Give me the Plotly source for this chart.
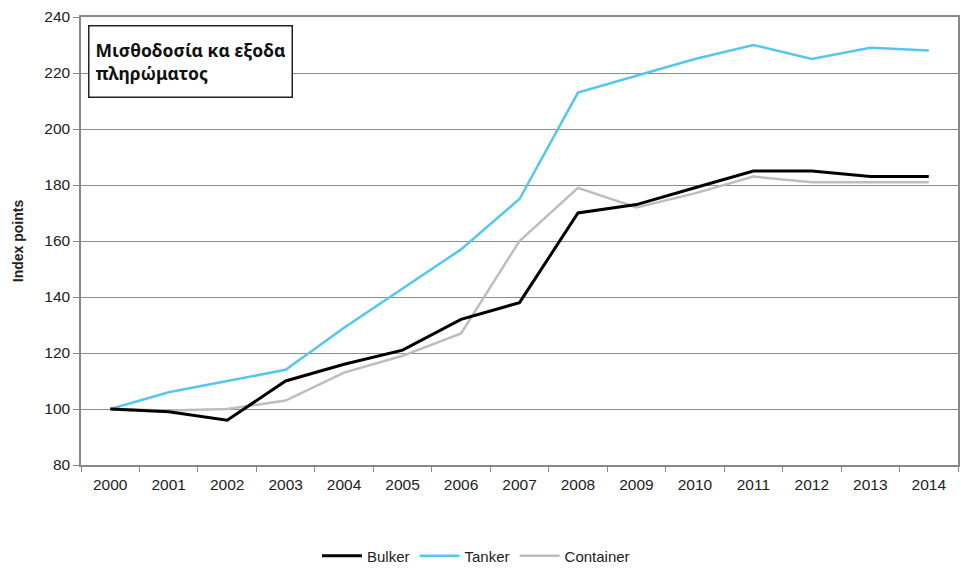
import plotly.graph_objects as go

years = [str(y) for y in range(2000, 2015)]
bulker = [100, 99, 96, 110, 116, 121, 132, 138, 170, 173, 179, 185, 185, 183, 183]
tanker = [100, 106, 110, 114, 129, 143, 157, 175, 213, 219, 225, 230, 225, 229, 228]
container = [100, 99.5, 100, 103, 113, 119, 127, 160, 179, 172, 177, 183, 181, 181, 181]

series = [
    ("Bulker", bulker, "#000000", 3),
    ("Tanker", tanker, "#55c6ee", 2.5),
    ("Container", container, "#bdbdbd", 2.5),
]

fig = go.Figure()
for name, vals, color, w in [series[2], series[1], series[0]]:
    fig.add_trace(go.Scatter(x=years, y=vals, name=name, mode="lines",
                             line=dict(color=color, width=w)))

L, R, T, B = 81, 958, 17, 465
PW, PH = R - L, B - T

fig.update_layout(
    width=961, height=570,
    margin=dict(l=L, r=961 - R, t=T, b=570 - B, autoexpand=False),
    paper_bgcolor="white", plot_bgcolor="white",
    font=dict(family="Liberation Sans, Arial, sans-serif", size=15.5, color="#222"),
    showlegend=True,
    legend=dict(orientation="h", x=(476 - L) / PW, xanchor="center",
                y=-(556 - B) / PH, yanchor="middle",
                traceorder="reversed", font=dict(size=15, color="#222"),
                itemwidth=40),
    xaxis=dict(type="category", range=[-0.5, 14.5], tickson="boundaries",
               ticks="outside", ticklen=5, tickcolor="#888",
               showline=True, linecolor="#888", linewidth=1.5, mirror=True,
               showgrid=False, tickfont=dict(size=15.5), ticklabelstandoff=5),
    yaxis=dict(range=[80, 240], dtick=20, ticks="outside", ticklen=6, tickcolor="#888",
               showline=True, linecolor="#888", linewidth=1.5, mirror=True,
               showgrid=True, gridcolor="#8c8c8c", gridwidth=1,
               zeroline=False, tickfont=dict(size=15.5),
               title=dict(text="<b>Index points</b>", font=dict(size=14), standoff=17)),
    annotations=[dict(
        text="<b>Μισθοδοσία κα εξοδα<br>πληρώματος</b>",
        xref="paper", yref="paper", x=(88 - L) / PW, y=(B - 25) / PH,
        xanchor="left", yanchor="top", showarrow=False, align="left",
        width=190, height=58, valign="middle",
        bordercolor="#222", borderwidth=1.5, borderpad=6, bgcolor="white",
        font=dict(family="Noto Sans, Open Sans, sans-serif", size=17.5, color="#111"))],
)

fig.write_html("out.html")
